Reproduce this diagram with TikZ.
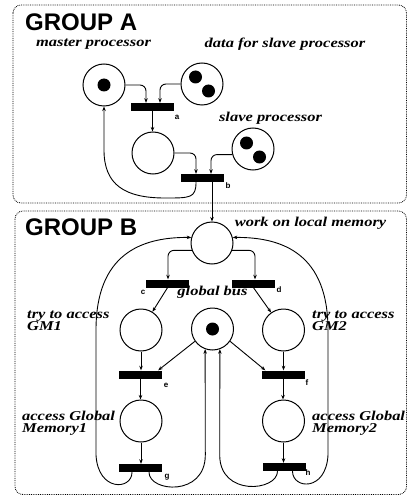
\documentclass[tikz,border=0pt]{standalone}
\usepackage{fontspec}
\usetikzlibrary{arrows.meta,calc}
\newfontfamily\lblfont[FakeStretch=1.22]{Liberation Serif}
\newfontfamily\grpfont{Liberation Sans}
\begin{document}
\begin{tikzpicture}[x=1pt,y=-1pt,
 place/.style={circle,draw,line width=1pt,minimum size=42pt,inner sep=0pt},
 token/.style={circle,fill,minimum size=13pt,inner sep=0pt},
 trans/.style={rectangle,fill,minimum width=43pt,minimum height=8pt,inner sep=0pt},
 arc/.style={line width=0.9pt,-{Stealth[length=4.5pt,width=3.5pt]}},
 tl/.style={font=\grpfont\bfseries\fontsize{8}{8}\selectfont,inner sep=0pt},
 lbl/.style={font=\lblfont\bfseries\itshape\fontsize{13.5}{12}\selectfont,inner sep=0pt,align=left},
 grp/.style={draw,densely dotted,line width=0.8pt,rounded corners=8pt},
 gtitle/.style={font=\grpfont\bfseries\fontsize{24}{24}\selectfont,inner sep=0pt,anchor=west}]
\useasboundingbox (0,0) rectangle (409,497);
% group boxes
\draw[grp] (13,5) rectangle (406.5,203);
\draw[grp] (15,211) rectangle (406.5,494.5);
\node[gtitle] (GA) at (25,22) {GROUP A};
\node[gtitle] (GB) at (25,227) {GROUP B};
% places
\node[place] (M) at (104,85) {};
\node[place] (D) at (202,84) {};
\node[place] (S) at (153,153) {};
\node[place] (T) at (253,149) {};
\node[place] (W) at (212,243) {};
\node[place] (G1) at (141,330) {};
\node[place] (B) at (212.5,329) {};
\node[place] (G2) at (283.5,330) {};
\node[place] (A1) at (141,421) {};
\node[place] (A2) at (283.5,421) {};
% tokens
\node[token] (Mt) at (M) {};
\node[token] (Dt1) at ($(D)+(-6.5,-7)$) {};
\node[token] (Dt2) at ($(D)+(6.5,7)$) {};
\node[token] (Tt1) at ($(T)+(-6.5,-6)$) {};
\node[token] (Tt2) at ($(T)+(6.5,8)$) {};
\node[token] (Bt) at (B) {};
% transitions
\node[trans] (a) at (152.5,107) {};
\node[trans] (b) at (202.5,178) {};
\node[trans] (c) at (167.5,283.5) {};
\node[trans] (d) at (253.5,283.5) {};
\node[trans] (e) at (140.5,374.5) {};
\node[trans] (f) at (283,374.5) {};
\node[trans] (g) at (140.5,468) {};
\node[trans] (h) at (284,467) {};
% transition labels
\node[tl] (la) at (177,117) {a};
\node[tl] (lb) at (228,186) {b};
\node[tl] (lc) at (143,292) {c};
\node[tl] (ld) at (279,290) {d};
\node[tl] (le) at (166,385) {e};
\node[tl] (lf) at (307,383) {f};
\node[tl] (lg) at (167,477) {g};
\node[tl] (lh) at (308,473) {h};
% place labels
\node[lbl] (t1) at (93.5,44) {master processor};
\node[lbl] (t2) at (285,44) {data for slave processor};
\node[lbl] (t3) at (270.5,118) {slave processor};
\node[lbl] (t4) at (310.5,223) {work on local memory};
\node[lbl] (t5) at (212.5,292) {global bus};
\node[lbl,anchor=west] (t6) at (27,321) {try to access\\GM1};
\node[lbl,anchor=west] (t7) at (312,321) {try to access\\GM2};
\node[lbl,anchor=west] (t8) at (22,423) {access Global\\Memory1};
\node[lbl,anchor=west] (t9) at (312,423) {access Global\\Memory2};
% group A arcs
\draw[arc,rounded corners=6pt] (M.east) -| ([xshift=-6.5pt]a.north);
\draw[arc,rounded corners=6pt] (D.west) -| ([xshift=7.5pt]a.north);
\draw[arc] (a.south) -- (a.south |- S.north);
\draw[arc,rounded corners=6pt] (S.east) -| ([xshift=-6.5pt]b.north);
\draw[arc,rounded corners=6pt] (T.195) -| ([xshift=8.5pt]b.north);
\draw[arc] ([xshift=9.5pt]b.south) -- (W.north);
\draw[arc] ([xshift=-6.5pt]b.south) .. controls +(0,16) and (190,198) .. (165,198)
  .. controls (125,198) and (104,185) .. (104,150) -- (M.south);
% group B arcs
\draw[arc,rounded corners=6pt] (W.200) -| ([xshift=0.5pt]c.north);
\draw[arc,rounded corners=6pt] (W.-20) -| ([xshift=1.5pt]d.north);
\draw[arc] (c.south) -- (G1);
\draw[arc] (d.south) -- (G2);
\draw[arc] (G1.south) -- (G1.south |- e.north);
\draw[arc] (G2.south) -- (G2.south |- f.north);
\draw[arc] (B.215) -- ([xshift=-4pt]e.north east);
\draw[arc] (B.-35) -- ([xshift=4pt]f.north west);
\draw[arc] (e.south) -- (e.south |- A1.north);
\draw[arc] (f.south) -- (f.south |- A2.north);
\draw[arc] (A1.south) -- (A1.south |- g.north);
\draw[arc] (A2.south) -- (A2.south |- h.north);
\draw[arc] ([xshift=-8.5pt]g.south) .. controls +(0,18) and (98,492) .. (96,455)
  -- (96,330) .. controls (96,255) and (140,237) .. (W.165);
\draw[arc] ([xshift=8.5pt]g.south) .. controls +(0,20) and (205.3,497) .. (205.3,455)
  -- (B.250);
\draw[arc] ([xshift=-6.5pt]h.south) .. controls +(0,20) and (219.7,497) .. (219.7,455)
  -- (B.290);
\draw[arc] ([xshift=8.5pt]h.south) .. controls +(0,18) and (326,492) .. (328,455)
  -- (328,330) .. controls (328,255) and (284,237) .. (W.15);
\end{tikzpicture}
\end{document}
